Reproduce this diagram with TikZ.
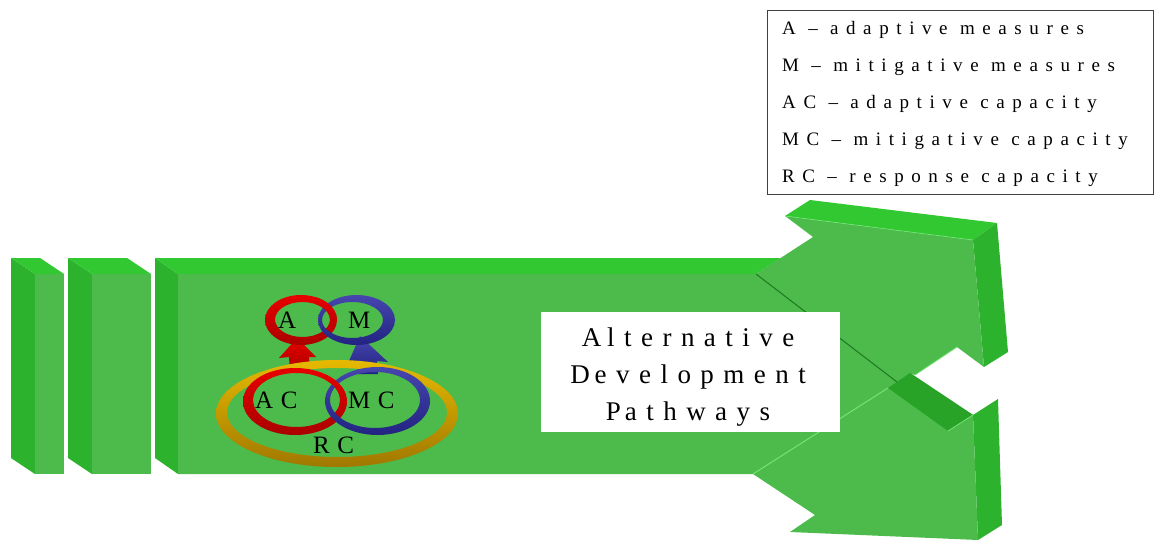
\documentclass[tikz,border=0pt]{standalone}
\usepackage{fontspec}
\setmainfont{Liberation Serif}
\newfontfamily\legendfont[LetterSpace=40]{Liberation Serif}
\newfontfamily\titlefont[LetterSpace=35]{Liberation Serif}
\newfontfamily\ringfont[LetterSpace=30]{Liberation Serif}

\definecolor{frontgreen}{RGB}{76,187,76}
\definecolor{topgreen}{RGB}{50,200,50}
\definecolor{sidegreen}{RGB}{45,178,45}
\definecolor{stripgreen}{RGB}{40,163,40}
\definecolor{edgedark}{RGB}{30,120,30}
\definecolor{edgelight}{RGB}{115,228,115}
\definecolor{ringred}{RGB}{232,0,0}
\definecolor{ringreddark}{RGB}{170,0,0}
\definecolor{ringblue}{RGB}{70,70,175}
\definecolor{ringbluedark}{RGB}{35,35,130}
\definecolor{ringgold}{RGB}{230,185,0}
\definecolor{ringgolddark}{RGB}{160,120,0}

\tikzset{
  frontface/.style={fill=frontgreen},
  topface/.style={fill=topgreen},
  sideface/.style={fill=sidegreen},
  redband/.style={even odd rule, top color=ringred, bottom color=ringreddark},
  blueband/.style={even odd rule, top color=ringblue, bottom color=ringbluedark},
  goldband/.style={even odd rule, top color=ringgold, bottom color=ringgolddark},
  redarrow/.style={top color=ringred, bottom color=ringreddark},
  bluearrow/.style={top color=ringblue, bottom color=ringbluedark},
  ringlabel/.style={anchor=base west, inner sep=0pt, font=\ringfont\fontsize{25}{25}\selectfont},
  titleline/.style={anchor=base, inner sep=0pt, font=\titlefont\fontsize{27}{27}\selectfont},
  legendline/.style={anchor=base west, inner sep=0pt, font=\legendfont\fontsize{19}{19}\selectfont},
}

\begin{document}
\begin{tikzpicture}[x=1pt,y=-1pt]
\useasboundingbox (0,0) rectangle (1154,540);

% ---- first column
\path[sideface] (11,258) -- (35,274) -- (35,474) -- (11,458) -- cycle;
\path[topface]  (11,258) -- (40,258) -- (64,274) -- (35,274) -- cycle;
\path[frontface] (35,274) rectangle (64,474);

% ---- second column
\path[sideface] (68,258) -- (92,274) -- (92,474) -- (68,458) -- cycle;
\path[topface]  (68,258) -- (127,258) -- (151,274) -- (92,274) -- cycle;
\path[frontface] (92,274) rectangle (151,474);

% ---- main body with the two arrow heads
\path[sideface] (155,258) -- (178,274) -- (178,474) -- (155,458) -- cycle;
\path[topface]  (155,258) -- (781,258) -- (756,274) -- (178,274) -- cycle;
\path[topface]  (785,216) -- (810,200) -- (997,223) -- (973,240) -- cycle;
\path[sideface] (973,240) -- (997,223) -- (1008,352) -- (984,367) -- cycle;
\path[sideface] (973,415) -- (998,399) -- (1002,525) -- (978,540) -- cycle;
\path[frontface] (178,274) -- (756,274) -- (813,237) -- (785,216) -- (973,240)
  -- (984,367) -- (957,347) -- (915,375) -- (910,373) -- (973,415)
  -- (978,540) -- (790,532) -- (815,515) -- (753,474) -- (178,474) -- cycle;
\path[fill=stripgreen] (888,388) -- (910,373) -- (973,415) -- (948,431) -- cycle;
\draw[edgedark, line width=1pt] (756,274) -- (897,382);
\draw[edgelight, line width=1pt] (753,474) -- (888,388);
\draw[edgelight, line width=0.8pt] (915,375) -- (957,347);
\draw[edgelight, line width=0.8pt] (948,431) -- (973,415);
\draw[edgelight, line width=0.6pt] (785,216) -- (973,240);

% ---- title box
\node[fill=white, minimum width=299pt, minimum height=120pt, inner sep=0pt] (pathbox) at (690.5,372) {};
\node[titleline] (t1) at (688,346) {A\kern6pt lternative};
\node[titleline] (t2) at (688,383) {D\kern5pt evelopment};
\node[titleline] (t3) at (688,420) {P\kern4pt athways};

% ---- legend
\node[draw=black!75, line width=1.2pt, minimum width=386pt, minimum height=184pt, inner sep=0pt, anchor=north west] (legend) at (767,10) {};
\node[legendline] (l1) at (782,35)  {A – adaptive measures};
\node[legendline] (l2) at (782,72)  {M – mitigative measures};
\node[legendline] (l3) at (782,109) {AC – adaptive capacity};
\node[legendline] (l4) at (782,146) {MC – mitigative capacity};
\node[legendline] (l5) at (782,183) {RC – response capacity};

% ---- arrows from the capacities to the measures
\shade[redarrow] (297,338) -- (316,357) -- (309,357) -- (310,372) -- (290,372) -- (289,357) -- (279,358) -- cycle;
\shade[bluearrow] (360,336) -- (388,362) -- (377,361) -- (378,374) -- (358,374) -- (357,361) -- (349,361) -- cycle;

% ---- response capacity ring
\shade[goldband] (337,413.5) ellipse (121 and 53.5) (337,412.5) ellipse (110 and 44.5);

% ---- adaptive / mitigative capacity rings (linked)
\shade[redband]  (295,401.5) ellipse (52 and 33.5) (296.5,400) ellipse (43.5 and 27);
\shade[blueband] (377.5,401) ellipse (52.5 and 34) (375,400) ellipse (45 and 28);
\begin{scope}
  \clip (325,360) rectangle (352,395);
  \shade[redband]  (295,401.5) ellipse (52 and 33.5) (296.5,400) ellipse (43.5 and 27);
\end{scope}

% ---- adaptive / mitigative measure rings (linked)
\shade[redband]  (301,320) ellipse (36 and 25) (302.5,319.5) ellipse (27.5 and 17.5);
\shade[blueband] (356.5,320) ellipse (38.5 and 25) (352.5,320) ellipse (30.5 and 18);
\begin{scope}
  \clip (316,290) rectangle (345,318);
  \shade[redband]  (301,320) ellipse (36 and 25) (302.5,319.5) ellipse (27.5 and 17.5);
\end{scope}

% ---- ring labels
\node[ringlabel] (la)  at (278,328) {A};
\node[ringlabel] (lm)  at (348,328) {M};
\node[ringlabel] (lac) at (255,408) {AC};
\node[ringlabel] (lmc) at (348,408) {MC};
\node[ringlabel] (lrc) at (313,453) {RC};
\end{tikzpicture}
\end{document}
